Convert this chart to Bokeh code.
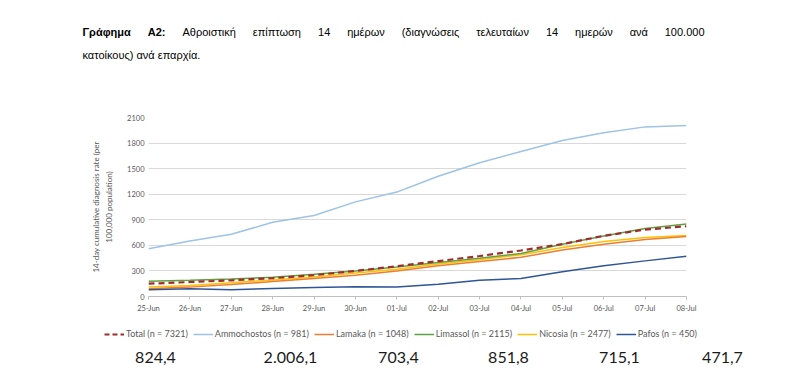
from bokeh.plotting import figure
from bokeh.models import Label, Legend, LegendItem, FixedTicker, Range1d
from bokeh.layouts import column
from bokeh.embed import file_html
from bokeh.resources import INLINE

# ---------------- data ----------------
dates = ["25-Jun", "26-Jun", "27-Jun", "28-Jun", "29-Jun", "30-Jun", "01-Jul",
         "02-Jul", "03-Jul", "04-Jul", "05-Jul", "06-Jul", "07-Jul", "08-Jul"]
total = [150, 170, 190, 215, 250, 300, 355, 415, 475, 540, 615, 712, 785, 824.4]
ammochostos = [560, 650, 730, 870, 950, 1110, 1225, 1410, 1570, 1700, 1830, 1920, 1990, 2006.1]
larnaka = [90, 110, 140, 175, 210, 250, 300, 360, 410, 460, 545, 612, 668, 703.4]
limassol = [180, 190, 205, 225, 260, 300, 345, 400, 450, 505, 613, 710, 799, 851.8]
nicosia = [110, 130, 160, 195, 230, 275, 320, 380, 430, 490, 575, 645, 692, 715.1]
pafos = [80, 90, 80, 95, 105, 115, 112, 145, 190, 212, 290, 362, 418, 471.7]

series_labels = ["Total (n = 7321)", "Ammochostos (n = 981)", "Lamaka (n = 1048)",
                 "Limassol (n = 2115)", "Nicosia (n = 2477)", "Pafos (n = 450)"]
final_values = ["824,4", "2.006,1", "703,4", "851,8", "715,1", "471,7"]
y_ticks = [0, 300, 600, 900, 1200, 1500, 1800, 2100]
y_title = "14-day cumulative diagnosis rate (per\n100,000 population)"

title_line1 = [("Γράφημα", True), ("Α2:", True), ("Αθροιστική", False), ("επίπτωση", False),
               ("14", False), ("ημέρων", False), ("(διαγνώσεις", False), ("τελευταίων", False),
               ("14", False), ("ημερών", False), ("ανά", False), ("100.000", False)]
title_line2 = "κατοίκους) ανά επαρχία."

colors = ["#a02d2d", "#9dc3e6", "#ed7d31", "#5fa041", "#ffc000", "#2f5597"]
data = [total, ammochostos, larnaka, limassol, nicosia, pafos]

W = 800


def blank(h, yr=(0, 1)):
    f = figure(width=W, height=h, output_backend="svg", toolbar_location=None,
               x_range=Range1d(0, 1), y_range=Range1d(*yr),
               x_axis_location=None, y_axis_location=None,
               min_border=0, min_border_left=0, min_border_right=0,
               min_border_top=0, min_border_bottom=0)
    f.frame_align = False
    f.grid.visible = False
    f.outline_line_color = None
    f.background_fill_color = "white"
    f.border_fill_color = "white"
    return f


# ---------------- title block (page y 0..70) ----------------
TH = 70
pt = blank(TH)
EM = {" ": .278, "(": .333, ")": .333, ".": .278, ":": .278, "0": .556, "1": .556, "2": .556,
      "4": .556, "Γ": .556, "Α": .667, "α": .578, "ά": .578, "β": .574, "γ": .5, "δ": .557,
      "ε": .446, "έ": .446, "η": .556, "ή": .556, "θ": .556, "ι": .222, "ί": .222, "κ": .5,
      "λ": .5, "μ": .576, "ν": .5, "ο": .556, "ό": .556, "π": .69, "ρ": .569, "σ": .617,
      "ς": .48, "τ": .395, "υ": .546, "φ": .657, "χ": .526, "ω": .781, "ώ": .781}
FS = 11


def wpx(s, bold):
    return sum(EM.get(c, .55) for c in s) * FS * (1.08 if bold else 1.0)


x0, x1 = 82, 704
widths = [wpx(w, b) for w, b in title_line1]
gap = (x1 - x0 - sum(widths)) / (len(title_line1) - 1)
xcur = x0
for (w, b), wd in zip(title_line1, widths):
    pt.add_layout(Label(x=xcur, y=TH - 31, x_units="screen", y_units="screen",
                        text=w, text_align="left", text_baseline="alphabetic",
                        text_font="Liberation Sans", text_font_size=f"{FS}px",
                        text_font_style="bold" if b else "normal", text_color="#000000"))
    xcur += wd + gap
pt.add_layout(Label(x=x0, y=TH - 54, x_units="screen", y_units="screen",
                    text=title_line2, text_align="left", text_baseline="alphabetic",
                    text_font="Liberation Sans", text_font_size=f"{FS}px", text_color="#000000"))

# ---------------- main chart (page y 70..322) ----------------
MH = 252
p = figure(width=W, height=MH, output_backend="svg", toolbar_location=None,
           x_range=Range1d(0, len(dates) - 1), y_range=Range1d(0, 2100),
           min_border_left=148, min_border_right=W - 686,
           min_border_top=117 - TH, min_border_bottom=(TH + MH) - 296)
p.frame_align = False
p.outline_line_color = None
p.background_fill_color = "white"
p.border_fill_color = "white"
p.xgrid.grid_line_color = None
p.ygrid.grid_line_color = "#d9d9d9"

p.yaxis.ticker = FixedTicker(ticks=y_ticks)
p.yaxis.axis_line_color = None
p.yaxis.major_tick_line_color = None
p.yaxis.major_tick_out = 0
p.yaxis.major_tick_in = 0
p.yaxis.minor_tick_line_color = None
p.yaxis.major_label_standoff = 4
p.yaxis.major_label_text_font = "Lato"
p.yaxis.major_label_text_font_size = "7.5px"
p.yaxis.major_label_text_color = "#595959"
p.yaxis.axis_label = y_title
p.yaxis.axis_label_standoff = 10
p.yaxis.axis_label_text_font = "Lato"
p.yaxis.axis_label_text_font_size = "8px"
p.yaxis.axis_label_text_line_height = 1.35
p.yaxis.axis_label_text_font_style = "normal"
p.yaxis.axis_label_text_color = "#595959"

xs = list(range(len(dates)))
p.xaxis.ticker = FixedTicker(ticks=xs)
p.xaxis.major_label_overrides = {i: d for i, d in enumerate(dates)}
p.xaxis.axis_line_color = "#bfbfbf"
p.xaxis.major_tick_line_color = "#bfbfbf"
p.xaxis.major_tick_in = 0
p.xaxis.major_tick_out = 3
p.xaxis.minor_tick_line_color = None
p.xaxis.major_label_standoff = 4
p.xaxis.major_label_text_font = "Lato"
p.xaxis.major_label_text_font_size = "7.5px"
p.xaxis.major_label_text_color = "#595959"

for i in [1, 4, 2, 3, 5, 0]:
    if i == 0:
        p.line(xs, data[i], line_color=colors[i], line_width=2.2, line_dash="6 4")
    else:
        p.line(xs, data[i], line_color=colors[i], line_width=1.5)

# ---------------- legend + final values (page y 322..380) ----------------
BH = 58
pb = blank(BH, yr=(-1, 0))
key_r = []
for i in range(6):
    if i == 0:
        r = pb.line(xs, data[i], line_color=colors[i], line_width=2.2, line_dash="5 3")
    else:
        r = pb.line(xs, data[i], line_color=colors[i], line_width=1.5)
    key_r.append(r)
items = [LegendItem(label=series_labels[i], renderers=[key_r[i]]) for i in range(6)]
bottom = TH + MH + BH
legend = Legend(items=items, orientation="horizontal",
                location=(104, bottom - 339),
                padding=0, margin=0, spacing=5, label_standoff=2,
                glyph_width=20, glyph_height=10, label_height=11,
                label_text_font="Lato", label_text_font_size="9px",
                label_text_color="#595959",
                border_line_color=None, background_fill_alpha=0)
pb.add_layout(legend, "center")

value_centers = [155, 290, 398, 508, 619, 722]
for txt, cx in zip(final_values, value_centers):
    pb.add_layout(Label(x=cx, y=bottom - 357, x_units="screen", y_units="screen",
                        text=txt, text_align="center", text_baseline="middle",
                        text_font="Lato", text_font_size="16px", text_color="#1a1a1a"))

layout = column(pt, p, pb, spacing=0)
open("out.html", "w").write(file_html(layout, INLINE))
